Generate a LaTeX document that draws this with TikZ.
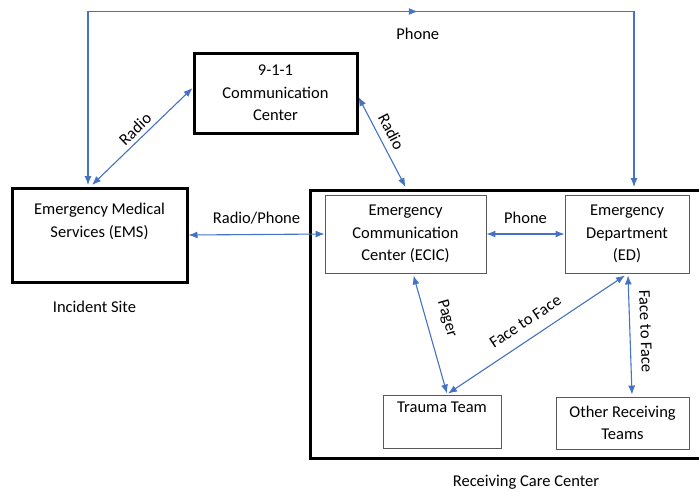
\documentclass[tikz,border=0pt]{standalone}
\usepackage{fontspec}
\setmainfont{Carlito}
\usetikzlibrary{calc,arrows.meta}
\definecolor{linkblue}{HTML}{4472C4}

\begin{document}
\begin{tikzpicture}[x=1pt,y=-1pt,
    font=\fontsize{16.5}{22.5}\selectfont,
    >={Latex[length=9pt,width=7pt]},
    bigbox/.style={draw,line width=3pt,align=center,inner sep=0pt},
    smallbox/.style={draw=black!65,line width=0.9pt,align=center,inner sep=0pt},
    link/.style={draw=linkblue,line width=1.1pt,<->},
    lbl/.style={inner sep=3pt,sloped,text=black}]
  \useasboundingbox (0,0) rectangle (699,491);
  % outer boxes
  \node[bigbox,minimum width=163,minimum height=80] (n911) at (275.5,93)
    {9-1-1\\Communication\\Center};
  \node[bigbox,minimum width=175,minimum height=94] (ems) at (99.5,235)
    {Emergency Medical\\Services (EMS)\\\strut};
  \node[bigbox,minimum width=395,minimum height=268] (rcc) at (507.5,324) {};
  % boxes of the receiving care center
  \foreach \name/\x/\y/\w/\h/\txt in {%
    ecic/405.5/234/161/78/{Emergency\\Communication\\Center (ECIC)},
    ed/627/234/124/78/{Emergency\\Department\\(ED)},
    trauma/442/421.5/118/53/{Trauma Team\\\strut},
    other/622.5/423/133/52/{Other Receiving\\Teams}}{%
      \node[smallbox,minimum width=\w,minimum height=\h] (\name) at (\x,\y) {\txt};
    }
  \node (site) at ($(ems.south)+(-5,23)$) {Incident Site};
  \node (rcclbl) at ($(rcc.south)+(18.5,23)$) {Receiving Care Center};
  % phone line over the top
  \coordinate (tl) at ($(ems.north)+(-11.5,-175)$);
  \coordinate (edtop) at ($(ed.north |- rcc.north)+(7,-1.5)$);
  \coordinate (tr) at (edtop |- tl);
  \draw[link] ($(ems.north)+(-11.5,-1.5)$) -- (tl) -- (tr) -- (edtop);
  \draw[draw=linkblue,line width=1.1pt,->] (tl) -- ($(tl)!0.604!(tr)$)
    node[below=13pt,inner sep=3pt,text=black] (phonetop) {Phone};
  % radio, phone and face to face links
  \draw[link] ($(ems.north)+(-7.5,-1.5)$) -- ($(n911.west)+(0,-5)$)
    node[lbl,midway,above=1pt] {Radio};
  \draw[link] ($(n911.east)+(0,4)$) -- ($(ecic.north |- rcc.north)+(0,-1.5)$)
    node[lbl,pos=.45,above=4pt] {Radio};
  \draw[link] (ems.east) -- (ecic.west)
    node[inner sep=3pt,midway,above=7pt] {Radio/Phone};
  \draw[link] (ecic.east) -- (ed.west)
    node[inner sep=3pt,midway,above=7pt] {Phone};
  \draw[link] ($(ecic.south)+(8,2)$) -- ($(trauma.north)+(5,-1)$)
    node[lbl,pos=.41,above=10pt] {Pager};
  \draw[link] ($(trauma.north)+(6,-1)$) -- ($(ed.south)+(-2,2)$)
    node[lbl,pos=.49,above=8pt] {Face to Face};
  \draw[link] ($(ed.south)+(1,2)$) -- ($(other.north)+(9.5,-2)$)
    node[lbl,pos=.475,above=7pt] {Face to Face};
\end{tikzpicture}
\end{document}
